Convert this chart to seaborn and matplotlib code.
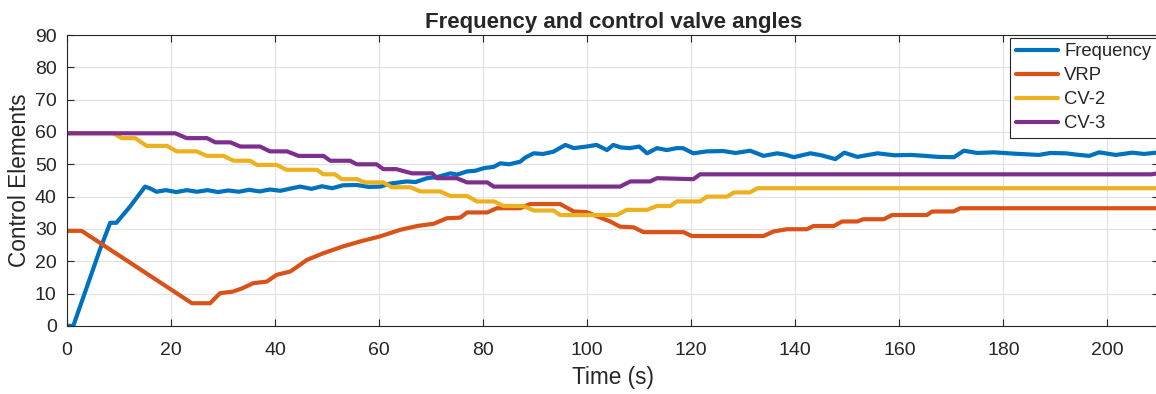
import seaborn as sns
import pandas as pd
import matplotlib.pyplot as plt

# values
freq_t = [0, 1.2, 6.3, 8.3, 9.5, 12.1, 15, 16, 17.2, 19, 21, 23, 25, 27, 29, 31, 33, 35, 37, 39,
          41, 43, 44.8, 47, 49, 51, 53, 55.7, 58, 60.2, 62, 65.3, 67, 69.2, 71, 73.7, 75, 76.9,
          78.5, 80.1, 82, 83.3, 85, 87.1, 88, 89.7, 91.5, 93.5, 95.8, 97.4, 99.9, 101.8, 103.8,
          105, 106.5, 108.2, 110, 111.5, 113.4, 115.3, 117.2, 118.4, 120.4, 123, 126.2, 128.5,
          131.3, 133.9, 136.5, 138, 139.7, 142.9, 145, 147.7, 149.4, 151.9, 155.8, 159, 162.2,
          165, 167.4, 170.5, 172.4, 175, 178.2, 182, 186.8, 189, 192, 194, 196.5, 198.4, 201.6,
          204.8, 207, 210]
freq_v = [0, 0, 23.5, 31.9, 31.9, 36.9, 43.1, 42.5, 41.5, 42, 41.4, 42, 41.5, 42, 41.4, 41.9,
          41.5, 42.1, 41.6, 42.2, 41.8, 42.5, 43.1, 42.4, 43.2, 42.6, 43.5, 43.6, 43, 43.1, 44,
          44.7, 44.5, 45.7, 46, 47.2, 46.8, 47.8, 48, 48.8, 49.2, 50.3, 50, 50.8, 52, 53.4, 53.2,
          53.9, 56, 55, 55.5, 56, 54.4, 56, 55.2, 55, 55.5, 53.4, 55, 54.4, 55, 55, 53.4, 54,
          54.1, 53.5, 54.2, 52.6, 53.4, 53, 52.2, 53.4, 52.8, 51.6, 53.6, 52.3, 53.4, 52.8, 52.9,
          52.6, 52.3, 52.2, 54.2, 53.5, 53.7, 53.3, 52.9, 53.5, 53.4, 53, 52.6, 53.7, 52.9, 53.6,
          53.2, 53.7]

vrp_t = [0, 2.8, 24, 27.5, 29.4, 31.9, 33.5, 35.8, 38.4, 40.3, 42.9, 44.8, 46.1, 49.3, 53.1,
         56.3, 60.2, 64, 67.3, 70.5, 73, 75.6, 76.9, 80.8, 82.6, 87.1, 89, 94.8, 97.4, 99.9,
         101.9, 104.4, 106.3, 108.9, 110.8, 118.5, 120.1, 133.9, 135.8, 138.4, 142.2, 143.5,
         147.4, 149, 151.9, 153.1, 157, 158.6, 165.3, 166.3, 170.4, 171.7, 210]
vrp_v = [29.4, 29.4, 7, 7, 10.1, 10.6, 11.5, 13.2, 13.7, 15.8, 16.8, 18.9, 20.4, 22.5, 24.6,
         26.1, 27.7, 29.7, 30.9, 31.6, 33.3, 33.5, 35.1, 35.1, 36.4, 36.4, 37.7, 37.7, 35.4, 35.2,
         33.9, 32.3, 30.7, 30.5, 29, 29, 27.8, 27.8, 29.2, 29.9, 29.9, 30.9, 30.9, 32.3, 32.3,
         33, 33, 34.3, 34.3, 35.4, 35.4, 36.4, 36.4]

cv2_t = [0, 8.9, 10.5, 13.1, 15.3, 19.2, 21.1, 24.9, 26.9, 30.1, 32, 35.2, 36.5, 40.3, 42.2, 48,
         49.3, 51.5, 52.8, 55.7, 57.3, 60.8, 62.4, 66, 67.9, 71.7, 73.7, 76.9, 78.8, 82.1, 83.9,
         87.7, 89.7, 93.5, 94.8, 105.7, 107.6, 111.5, 113.4, 116, 117.2, 121.7, 123, 126.9,
         128.2, 131.3, 132.7, 210]
cv2_v = [59.6, 59.6, 58.1, 58.1, 55.7, 55.7, 54, 54, 52.6, 52.6, 51.1, 51.1, 49.8, 49.8, 48.3,
         48.3, 46.9, 46.9, 45.4, 45.4, 44.4, 44.4, 42.9, 42.9, 41.6, 41.6, 40.2, 40.2, 38.5, 38.5,
         37.1, 37.1, 35.7, 35.7, 34.3, 34.3, 35.9, 35.9, 37.1, 37.1, 38.5, 38.5, 40, 40, 41.3,
         41.3, 42.6, 42.6]

cv3_t = [0, 20.8, 23, 26.9, 28.5, 31.4, 33.3, 37.1, 39, 42.3, 44.5, 49.3, 50.6, 54.4, 55.7, 59.5,
         60.8, 63.3, 66.3, 70.2, 71.1, 74.9, 76.9, 80.8, 82, 106.3, 108.3, 112.1, 113.4, 120.4,
         121.7, 208.5, 210]
cv3_v = [59.6, 59.6, 58.1, 58.1, 56.8, 56.8, 55.5, 55.5, 54, 54, 52.6, 52.6, 51.1, 51.1, 50, 50,
         48.5, 48.5, 47.2, 47.2, 45.7, 45.7, 44.4, 44.4, 43.1, 43.1, 44.7, 44.7, 45.7, 45.4,
         46.9, 46.9, 47.3]

names = ['Frequency', 'VRP', 'CV-2', 'CV-3']
colors = ['#0072BD', '#D95319', '#EDB120', '#7E2F8E']

frames = []
for name, t, v in zip(names, [freq_t, vrp_t, cv2_t, cv3_t], [freq_v, vrp_v, cv2_v, cv3_v]):
    frames.append(pd.DataFrame({'Time': t, 'Value': v, 'Signal': name}))
df = pd.concat(frames, ignore_index=True)

sns.set_theme(style='whitegrid')
plt.rcParams['font.family'] = ['Liberation Sans', 'DejaVu Sans']

fig = plt.figure(figsize=(11.56, 3.94), dpi=100)
ax = fig.add_axes([0.058, 0.173, 0.945, 0.738])

sns.lineplot(data=df, x='Time', y='Value', hue='Signal', palette=colors, hue_order=names,
             estimator=None, sort=True, linewidth=3, ax=ax)

ax.set_xlim(0, 210)
ax.set_ylim(0, 90)
ax.set_xticks(range(0, 201, 20))
ax.set_yticks(range(0, 91, 10))
ax.grid(True, color='#e3e3e3', linewidth=0.9)
ax.set_axisbelow(True)
for s in ['left', 'bottom', 'top', 'right']:
    ax.spines[s].set_visible(True)
    ax.spines[s].set_color('#262626')
    ax.spines[s].set_linewidth(0.8)
ax.tick_params(direction='in', length=5, width=0.8, colors='#262626', labelsize=14,
               top=True, right=True, bottom=True, left=True)
ax.tick_params(axis='x', pad=11.5)
ax.tick_params(axis='y', pad=7.5)
ax.set_xlabel('Time (s)', fontsize=16.3, color='#262626', labelpad=5)
ax.set_ylabel('Control Elements', fontsize=16.3, color='#262626', labelpad=3)
ax.set_title('Frequency and control valve angles', fontsize=16, fontweight='bold', pad=5)

leg = ax.legend(loc='upper right', fontsize=13.3, frameon=True, fancybox=False,
                framealpha=1, edgecolor='#262626', borderaxespad=0.15, handlelength=2.3,
                handletextpad=0.3, labelspacing=0.38, borderpad=0.3, title=None)
leg.get_frame().set_linewidth(0.8)

fig.savefig('out.png', dpi=100)
